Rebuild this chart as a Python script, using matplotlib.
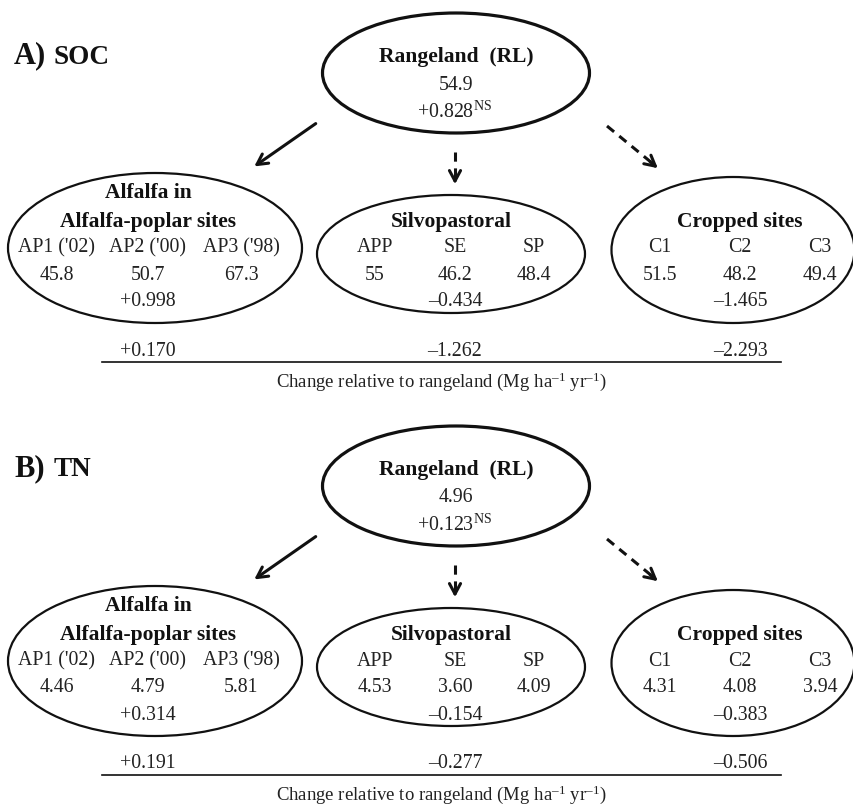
import matplotlib.pyplot as plt
from matplotlib.patches import Ellipse

plt.rcParams['font.family'] = ['Liberation Serif', 'DejaVu Serif']
plt.rcParams['mathtext.fontset'] = 'custom'
plt.rcParams['mathtext.rm'] = 'Liberation Serif'
plt.rcParams['mathtext.it'] = 'Liberation Serif:italic'
plt.rcParams['mathtext.bf'] = 'Liberation Serif:bold'

# Datos
panels = ["A)", "B)"]
panel_vars = ["SOC", "TN"]
rangeland = [54.9, 4.96]
rangeland_trend = [0.828, 0.123]

alfalfa_sites = ["AP1 ('02)", "AP2 ('00)", "AP3 ('98)"]
silvo_sites = ["APP", "SE", "SP"]
crop_sites = ["C1", "C2", "C3"]

alfalfa_vals = [[45.8, 50.7, 67.3], [4.46, 4.79, 5.81]]
silvo_vals = [[55, 46.2, 48.4], [4.53, 3.60, 4.09]]
crop_vals = [[51.5, 48.2, 49.4], [4.31, 4.08, 3.94]]

alfalfa_trend = [0.998, 0.314]
silvo_trend = [-0.434, -0.154]
crop_trend = [-1.465, -0.383]

alfalfa_rel = [0.170, 0.191]
silvo_rel = [-1.262, -0.277]
crop_rel = [-2.293, -0.506]

fmts = ["{:g}", "{:.2f}"]


def sgn(v):
    return "{:+.3f}".format(v).replace("-", "\u2013")


fig = plt.figure(figsize=(8.54, 8.07), dpi=100)
ax = fig.add_axes([0, 0, 1, 1])
ax.set_xlim(0, 854)
ax.set_ylim(807, 0)
ax.axis("off")

fs = 14.3     # texto normal
fb = 15.5     # titulos en negrita
tc = "#222222"
lc = "#111111"
col_x = [[57, 148, 241], [375, 455, 534], [660, 740, 820]]
head = "->,head_length=0.75,head_width=0.4"

for p in range(2):
    dy = 0 if p == 0 else 413
    fmt = fmts[p]

    # Título del panel
    ax.text(14, 56 + dy, panels[p], fontsize=22, fontweight="bold", va="center", ha="left", color=lc)
    ax.text(54, 57 + dy, panel_vars[p], fontsize=19.5, fontweight="bold", va="center", ha="left", color=lc)

    # Rangeland
    ax.add_patch(Ellipse((456, 73 + dy), 267, 120, fill=False, lw=2.3, ec=lc))
    ax.text(456, 57 + dy, "Rangeland  (RL)", fontsize=fb, fontweight="bold", ha="center", va="center", color=lc)
    ax.text(456, 85 + dy, fmt.format(rangeland[p]), fontsize=fs, ha="center", va="center", color=tc)
    ax.text(454, 112 + dy, sgn(rangeland_trend[p]) + r"$^{\mathrm{NS}}$", fontsize=fs,
            ha="center", va="center", color=tc)

    # Flechas
    ax.annotate("", xy=(252, 168 + dy), xytext=(318, 122 + dy),
                arrowprops=dict(arrowstyle=head, lw=2.2, color=lc))
    ax.plot([455, 455], [152 + dy, 180 + dy], ls=(0, (3, 2.2)), lw=2.2, color=lc)
    ax.annotate("", xy=(455, 187 + dy), xytext=(455, 175 + dy),
                arrowprops=dict(arrowstyle=head, lw=2.2, color=lc))
    ax.plot([607, 652], [126 + dy, 163 + dy], ls=(0, (3, 2.2)), lw=2.2, color=lc)
    ax.annotate("", xy=(660, 170 + dy), xytext=(648, 160 + dy),
                arrowprops=dict(arrowstyle=head, lw=2.2, color=lc))

    # Elipses de grupos
    ax.add_patch(Ellipse((155, 248 + dy), 294, 150, fill=False, lw=1.6, ec=lc))
    ax.add_patch(Ellipse((451, 254 + dy), 268, 118, fill=False, lw=1.6, ec=lc))
    ax.add_patch(Ellipse((733, 250 + dy), 243, 146, fill=False, lw=1.6, ec=lc))

    ax.text(148, 193 + dy, "Alfalfa in", fontsize=fb, fontweight="bold", ha="center", va="center", color=lc)
    ax.text(148, 222 + dy, "Alfalfa-poplar sites", fontsize=fb, fontweight="bold", ha="center", va="center",
            color=lc)
    ax.text(451, 222 + dy, "Silvopastoral", fontsize=fb, fontweight="bold", ha="center", va="center", color=lc)
    ax.text(740, 222 + dy, "Cropped sites", fontsize=fb, fontweight="bold", ha="center", va="center", color=lc)

    groups = [(alfalfa_sites, alfalfa_vals[p], alfalfa_trend[p], alfalfa_rel[p]),
              (silvo_sites, silvo_vals[p], silvo_trend[p], silvo_rel[p]),
              (crop_sites, crop_vals[p], crop_trend[p], crop_rel[p])]
    for g, (sites, vals, trend, rel) in enumerate(groups):
        for i in range(3):
            ax.text(col_x[g][i], 248 + dy, sites[i], fontsize=fs, ha="center", va="center", color=tc)
            ax.text(col_x[g][i], 275 + dy, fmt.format(vals[i]), fontsize=fs, ha="center", va="center",
                    color=tc)
        ax.text(col_x[g][1], 302 + dy, sgn(trend), fontsize=fs, ha="center", va="center", color=tc)
        ax.text(col_x[g][1], 351 + dy, sgn(rel), fontsize=fs, ha="center", va="center", color=tc)

    ax.plot([102, 781], [362 + dy, 362 + dy], lw=1.2, color=lc)
    ax.text(441, 382 + dy,
            "Change relative to rangeland (Mg ha$^{\u2013\\mathrm{1}}$ yr$^{\u2013\\mathrm{1}}$)",
            fontsize=13.5, ha="center", va="center", color=tc)

plt.savefig("out.png", dpi=100)
